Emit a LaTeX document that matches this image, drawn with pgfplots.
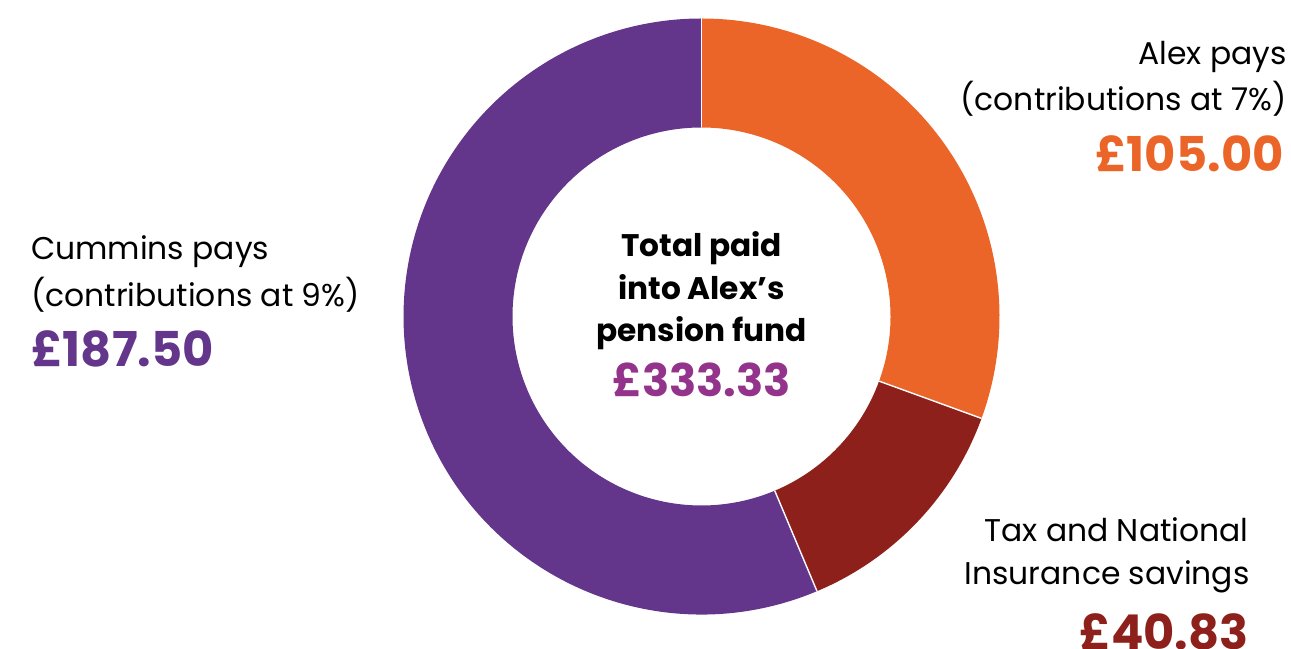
\documentclass[border=0pt]{standalone}
\usepackage{pgfplots}
\pgfplotsset{compat=1.18}
\usepackage{fontspec}
\setmainfont{Poppins}
\usetikzlibrary{calc}
\definecolor{cAlex}{HTML}{EC6528}
\definecolor{cTax}{HTML}{8E201C}
\definecolor{cCum}{HTML}{64368B}
\definecolor{cTot}{HTML}{93338B}
\newcommand{\reg}{\fontsize{15.7bp}{20bp}\selectfont}
\newcommand{\amt}{\fontsize{24bp}{28bp}\selectfont\bfseries}
\newcommand{\ctr}{\fontsize{15.6bp}{18bp}\selectfont\bfseries}
\newcommand{\ctramt}{\fontsize{22.5bp}{25bp}\selectfont\bfseries}
\begin{document}
\begin{tikzpicture}
% slice sizes (in pounds, as drawn)
\pgfmathsetmacro\vA{101.85}% Alex pays
\pgfmathsetmacro\vB{43.70}% Tax and NI savings
\pgfmathsetmacro\vC{187.78}% Cummins pays
\pgfmathsetmacro\tot{\vA+\vB+\vC}
\pgfmathsetmacro\aO{90}
\pgfmathsetmacro\aA{90-\vA/\tot*360}
\pgfmathsetmacro\aB{\aA-\vB/\tot*360}
\pgfmathsetmacro\aC{\aB-\vC/\tot*360}
\def\Ro{149bp}
\def\Ri{94.5bp}
\begin{axis}[width=645.5bp,height=324.5bp,scale only axis,
  xmin=0,xmax=1291,ymin=0,ymax=649,hide axis,clip=false]
\coordinate (c) at (axis cs:701.5,332.5);
\fill[cAlex] ($(c)+(\aO:\Ro)$) arc[start angle=\aO,end angle=\aA,radius=\Ro]
  -- ($(c)+(\aA:\Ri)$) arc[start angle=\aA,end angle=\aO,radius=\Ri] -- cycle;
\fill[cTax] ($(c)+(\aA:\Ro)$) arc[start angle=\aA,end angle=\aB,radius=\Ro]
  -- ($(c)+(\aB:\Ri)$) arc[start angle=\aB,end angle=\aA,radius=\Ri] -- cycle;
\fill[cCum] ($(c)+(\aB:\Ro)$) arc[start angle=\aB,end angle=\aC,radius=\Ro]
  -- ($(c)+(\aC:\Ri)$) arc[start angle=\aC,end angle=\aB,radius=\Ri] -- cycle;
\draw[white,line width=0.7bp] ($(c)+(\aO:\Ri)$) -- ($(c)+(\aO:\Ro)$);
\draw[white,line width=0.7bp] ($(c)+(\aA:\Ri)$) -- ($(c)+(\aA:\Ro)$);
\draw[white,line width=0.7bp] ($(c)+(\aB:\Ri)$) -- ($(c)+(\aB:\Ro)$);
% Alex
\node[anchor=base east,inner sep=0,font=\reg] at (axis cs:1287,584) {Alex pays};
\node[anchor=base east,inner sep=0,font=\reg] at (axis cs:1287,538.5) {(contributions at 7\%)};
\node[anchor=base east,inner sep=0,font=\amt,text=cAlex] at (axis cs:1284,477.3) {£105.00};
% Cummins
\node[anchor=base west,inner sep=0,font=\reg] at (axis cs:30.7,389.7) {Cummins pays};
\node[anchor=base west,inner sep=0,font=\reg] at (axis cs:30.7,342) {(contributions at 9\%)};
\node[anchor=base west,inner sep=0,font=\amt,text=cCum] at (axis cs:30.7,282.3) {£187.50};
% Centre
\node[anchor=base,inner sep=0,font=\ctr] at (axis cs:701.5,392.3) {Total paid};
\node[anchor=base,inner sep=0,font=\ctr] at (axis cs:701.5,349.3) {into Alex’s};
\node[anchor=base,inner sep=0,font=\ctr] at (axis cs:701.5,307.3) {pension fund};
\node[anchor=base,inner sep=0,font=\ctramt,text=cTot] at (axis cs:701.5,252.3) {£333.33};
% Tax
\node[anchor=base east,inner sep=0,font=\reg] at (axis cs:1249,107.3) {Tax and National};
\node[anchor=base east,inner sep=0,font=\reg] at (axis cs:1250,64) {Insurance savings};
\node[anchor=base east,inner sep=0,font=\amt,text=cTax] at (axis cs:1249,0) {£40.83};
\end{axis}
\pgfresetboundingbox
\path[use as bounding box] (0,0) rectangle (645.5bp,324.5bp);
\end{tikzpicture}
\end{document}
